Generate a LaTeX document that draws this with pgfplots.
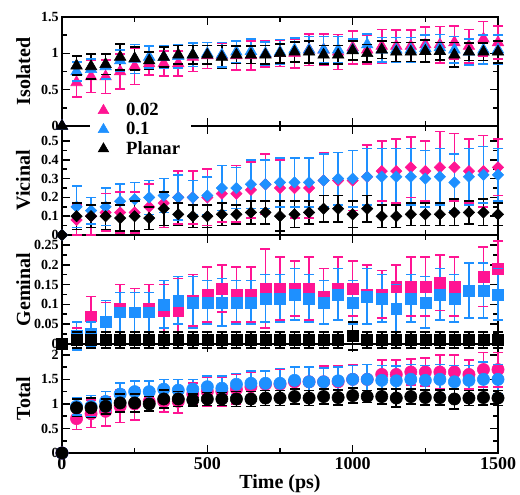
\documentclass[border=0pt]{standalone}
\usepackage{pgfplots}
\pgfplotsset{compat=1.18}
\usepackage{pgfplotstable}
\usepackage{fontspec}
\setmainfont{Liberation Serif}
\definecolor{pinkc}{RGB}{255,20,147}
\definecolor{bluec}{RGB}{30,144,255}

\pgfplotstableread{
x p pe b be k ke
0 0 0 0 0 0 0
50 0.60 0.20 0.75 0.13 0.83 0.13
100 0.68 0.22 0.78 0.14 0.82 0.17
150 0.68 0.23 0.82 0.17 0.85 0.14
200 0.75 0.24 0.90 0.15 0.95 0.18
250 0.82 0.25 0.92 0.20 0.93 0.16
300 0.86 0.16 0.95 0.15 0.90 0.12
350 0.86 0.17 0.95 0.16 0.95 0.14
400 0.86 0.17 0.96 0.16 0.98 0.13
450 0.95 0.20 0.98 0.16 0.98 0.13
500 0.97 0.18 1.00 0.15 0.98 0.13
550 0.97 0.17 0.98 0.17 0.95 0.16
600 0.97 0.20 1.02 0.15 0.98 0.12
650 0.97 0.20 1.03 0.17 0.98 0.12
700 0.99 0.18 1.00 0.16 0.98 0.13
750 1.00 0.18 1.02 0.17 1.00 0.13
800 1.00 0.20 1.05 0.16 1.02 0.14
850 1.05 0.22 1.05 0.18 1.02 0.15
900 1.05 0.22 1.05 0.18 0.98 0.13
950 1.02 0.24 1.05 0.18 0.98 0.13
1000 1.08 0.23 1.05 0.15 1.04 0.13
1050 1.05 0.20 1.12 0.15 1.00 0.12
1100 1.10 0.23 1.05 0.17 1.05 0.12
1150 1.10 0.22 1.05 0.17 1.02 0.13
1200 1.10 0.22 1.05 0.17 1.02 0.13
1250 1.12 0.24 1.07 0.18 1.03 0.15
1300 1.12 0.25 1.08 0.18 1.03 0.12
1350 1.15 0.23 1.05 0.18 0.98 0.17
1400 1.10 0.23 1.02 0.18 1.02 0.12
1450 1.20 0.24 1.05 0.20 1.02 0.12
1500 1.15 0.23 1.05 0.20 1.02 0.15
}\iso

\pgfplotstableread{
x p pe b be k ke
0 0 0 0 0 0 0
50 0.08 0.08 0.15 0.11 0.10 0.07
100 0.10 0.10 0.13 0.07 0.10 0.06
150 0.12 0.10 0.15 0.10 0.10 0.07
200 0.12 0.11 0.18 0.09 0.09 0.07
250 0.12 0.11 0.19 0.09 0.10 0.08
300 0.15 0.12 0.20 0.09 0.09 0.06
350 0.17 0.13 0.21 0.09 0.14 0.09
400 0.20 0.14 0.20 0.12 0.11 0.06
450 0.20 0.14 0.20 0.09 0.10 0.06
500 0.20 0.15 0.21 0.10 0.10 0.06
550 0.22 0.15 0.25 0.12 0.11 0.06
600 0.22 0.15 0.25 0.11 0.11 0.05
650 0.24 0.15 0.27 0.13 0.12 0.06
700 0.27 0.16 0.27 0.13 0.12 0.06
750 0.25 0.15 0.28 0.13 0.10 0.08
800 0.25 0.16 0.28 0.13 0.11 0.07
850 0.25 0.16 0.28 0.13 0.12 0.06
900 0.29 0.15 0.29 0.14 0.14 0.07
950 0.29 0.15 0.30 0.14 0.14 0.07
1000 0.29 0.16 0.30 0.15 0.11 0.07
1050 0.31 0.17 0.31 0.15 0.14 0.07
1100 0.34 0.16 0.31 0.15 0.10 0.06
1150 0.34 0.17 0.31 0.15 0.10 0.06
1200 0.36 0.16 0.31 0.15 0.11 0.06
1250 0.34 0.16 0.30 0.15 0.11 0.06
1300 0.36 0.19 0.31 0.15 0.11 0.06
1350 0.36 0.18 0.28 0.15 0.12 0.07
1400 0.34 0.17 0.31 0.15 0.12 0.06
1450 0.34 0.19 0.32 0.15 0.12 0.07
1500 0.36 0.15 0.32 0.14 0.11 0.06
}\vic

\pgfplotstableread{
x p pe b be k ke
0 0 0 0 0 0 0
50 0.020 0.020 0.020 0.035 0.01 0.02
100 0.070 0.050 0.025 0.030 0.01 0.02
150 0.055 0.050 0.055 0.055 0.01 0.02
200 0.090 0.060 0.080 0.050 0.01 0.02
250 0.080 0.060 0.080 0.050 0.01 0.02
300 0.090 0.060 0.080 0.050 0.01 0.02
350 0.085 0.065 0.100 0.060 0.01 0.02
400 0.085 0.080 0.110 0.060 0.01 0.02
450 0.110 0.065 0.105 0.065 0.01 0.02
500 0.125 0.070 0.105 0.055 0.01 0.02
550 0.140 0.060 0.105 0.060 0.01 0.02
600 0.125 0.070 0.105 0.055 0.01 0.02
650 0.125 0.070 0.105 0.055 0.01 0.02
700 0.140 0.100 0.115 0.060 0.01 0.02
750 0.140 0.080 0.115 0.060 0.01 0.02
800 0.140 0.070 0.125 0.065 0.01 0.02
850 0.140 0.080 0.115 0.060 0.01 0.02
900 0.120 0.070 0.105 0.055 0.01 0.02
950 0.140 0.080 0.125 0.065 0.01 0.02
1000 0.140 0.070 0.105 0.055 0.02 0.035
1050 0.125 0.075 0.120 0.070 0.01 0.02
1100 0.125 0.060 0.115 0.060 0.01 0.02
1150 0.145 0.055 0.090 0.060 0.01 0.02
1200 0.145 0.075 0.115 0.060 0.01 0.02
1250 0.145 0.075 0.105 0.065 0.01 0.02
1300 0.155 0.070 0.125 0.065 0.01 0.02
1350 0.145 0.075 0.115 0.060 0.01 0.02
1400 0.135 0.070 0.135 0.070 0.01 0.02
1450 0.170 0.075 0.135 0.070 0.01 0.02
1500 0.190 0.070 0.125 0.065 0.01 0.02
}\gem

\pgfplotstableread{
x p pe b be k ke
0 0 0 0 0 0 0
50 0.70 0.22 0.95 0.17 0.92 0.18
100 0.80 0.28 0.95 0.22 0.92 0.20
150 0.85 0.30 1.05 0.20 0.95 0.15
200 0.95 0.33 1.20 0.22 1.02 0.18
250 1.00 0.33 1.25 0.22 1.02 0.18
300 1.05 0.20 1.25 0.22 1.00 0.15
350 1.05 0.22 1.30 0.20 1.10 0.18
400 1.05 0.23 1.28 0.22 1.10 0.15
450 1.20 0.22 1.30 0.20 1.08 0.12
500 1.25 0.30 1.35 0.22 1.10 0.13
550 1.25 0.30 1.32 0.25 1.10 0.13
600 1.30 0.30 1.40 0.22 1.10 0.15
650 1.35 0.30 1.42 0.25 1.10 0.15
700 1.40 0.28 1.42 0.25 1.12 0.15
750 1.40 0.30 1.42 0.30 1.12 0.15
800 1.45 0.30 1.48 0.27 1.15 0.15
850 1.45 0.30 1.45 0.30 1.12 0.15
900 1.45 0.32 1.45 0.28 1.15 0.15
950 1.45 0.32 1.47 0.28 1.13 0.15
1000 1.50 0.30 1.50 0.28 1.17 0.15
1050 1.50 0.30 1.50 0.30 1.15 0.12
1100 1.60 0.30 1.48 0.30 1.15 0.15
1150 1.60 0.30 1.47 0.30 1.12 0.18
1200 1.65 0.27 1.50 0.30 1.15 0.15
1250 1.65 0.28 1.48 0.30 1.13 0.15
1300 1.65 0.35 1.50 0.30 1.13 0.15
1350 1.65 0.35 1.45 0.33 1.10 0.20
1400 1.60 0.30 1.48 0.30 1.12 0.15
1450 1.70 0.35 1.50 0.35 1.13 0.15
1500 1.70 0.35 1.50 0.30 1.12 0.15
}\tot

\pgfplotsset{
  panel/.style={
    scale only axis, width=327pt, height=81.75pt,
    xmin=0, xmax=1500, clip=false,
    xtick={0,500,1000,1500}, minor x tick num=1,
    minor y tick num=1,
    tick align=inside, xtick pos=both, ytick pos=both,
    major tick length=6pt, minor tick length=3.5pt,
    tick style={black, line width=1.2pt},
    axis line style={line width=1.5pt},
    /pgf/number format/assume math mode=true,
    /pgf/number format/fixed, /pgf/number format/precision=2,
    /pgf/number format/1000 sep={},
    yticklabel style={font=\bfseries\fontsize{10.5}{12}\selectfont, xshift=1pt},
    xticklabel style={font=\bfseries\fontsize{13.5}{15}\selectfont},
    ylabel style={font=\bfseries\fontsize{15}{17}\selectfont, at={(axis description cs:-0.062,0.5)}, anchor=south},
    xlabel style={font=\bfseries\fontsize{15}{17}\selectfont, yshift=3pt},
  },
}

% #1 table, #2 value column, #3 error column, #4 colour, #5 mark options
\newcommand{\series}[5]{%
  \addplot[draw=#4, line width=1.2pt, quiver={u=0, v=2*\thisrow{#3},
      every arrow/.append style={draw=#4, line width=1.2pt}}, forget plot]
    table[x=x, y expr=\thisrow{#2}-\thisrow{#3}] {#1};
  \addplot[#4, only marks, mark=-, mark size=3.75pt, mark options={line width=1.2pt}, forget plot]
    table[x=x, y expr=\thisrow{#2}+\thisrow{#3}] {#1};
  \addplot[#4, only marks, mark=-, mark size=3.75pt, mark options={line width=1.2pt}, forget plot]
    table[x=x, y expr=\thisrow{#2}-\thisrow{#3}] {#1};
  \addplot[#4, only marks, #5, forget plot] table[x=x, y=#2] {#1};
}

\begin{document}
\begin{tikzpicture}
\path[use as bounding box] (-46.5pt,-30.75pt) rectangle (343.5pt,339.75pt);

% Total
\begin{axis}[panel, at={(0pt,0pt)}, ymin=0, ymax=2.22,
  ytick={0,0.5,1,1.5,2}, ylabel={Total}, xlabel={Time (ps)}]
  \series{\tot}{p}{pe}{pinkc}{mark=*, mark size=4.6pt, mark options={fill=pinkc}}
  \series{\tot}{b}{be}{bluec}{mark=*, mark size=4.6pt, mark options={fill=bluec}}
  \series{\tot}{k}{ke}{black}{mark=*, mark size=4.6pt, mark options={fill=black}}
\end{axis}

% Geminal
\begin{axis}[panel, at={(0pt,81.75pt)}, ymin=0, ymax=0.275,
  ytick={0,0.05,0.1,0.15,0.2,0.25}, ylabel={Geminal}, xticklabels={}]
  \series{\gem}{p}{pe}{pinkc}{mark=square*, mark size=4.1pt, mark options={fill=pinkc}}
  \series{\gem}{b}{be}{bluec}{mark=square*, mark size=4.1pt, mark options={fill=bluec}}
  \series{\gem}{k}{ke}{black}{mark=square*, mark size=4.1pt, mark options={fill=black}}
\end{axis}

% Vicinal
\begin{axis}[panel, at={(0pt,163.5pt)}, ymin=0, ymax=0.58,
  ytick={0,0.1,0.2,0.3,0.4,0.5}, ylabel={Vicinal}, xticklabels={}]
  \series{\vic}{p}{pe}{pinkc}{mark=square*, mark size=3pt, mark options={fill=pinkc, rotate=45}}
  \series{\vic}{b}{be}{bluec}{mark=square*, mark size=3pt, mark options={fill=bluec, rotate=45}}
  \series{\vic}{k}{ke}{black}{mark=square*, mark size=3pt, mark options={fill=black, rotate=45}}
\end{axis}

% Isolated
\begin{axis}[panel, at={(0pt,245.25pt)}, ymin=0, ymax=1.5,
  ytick={0,0.5,1,1.5}, ylabel={Isolated}, xticklabels={},
  legend style={at={(rel axis cs:0.064,0.26)}, anchor=north west, draw=none, fill=white,
    font=\bfseries\fontsize{14}{15}\selectfont, inner xsep=6pt, inner ysep=2pt, row sep=-0.5pt,
    /tikz/every odd column/.append style={column sep=11pt}},
  legend cell align=left]
  \addlegendimage{only marks, mark=triangle*, mark size=4.6pt, color=pinkc}
  \addlegendentry{0.02}
  \addlegendimage{only marks, mark=triangle*, mark size=4.6pt, color=bluec}
  \addlegendentry{0.1}
  \addlegendimage{only marks, mark=triangle*, mark size=4.6pt, color=black}
  \addlegendentry{Planar}
  \series{\iso}{p}{pe}{pinkc}{mark=triangle*, mark size=5pt, mark options={fill=pinkc}}
  \series{\iso}{b}{be}{bluec}{mark=triangle*, mark size=5pt, mark options={fill=bluec}}
  \series{\iso}{k}{ke}{black}{mark=triangle*, mark size=5pt, mark options={fill=black}}
\end{axis}
\end{tikzpicture}
\end{document}
